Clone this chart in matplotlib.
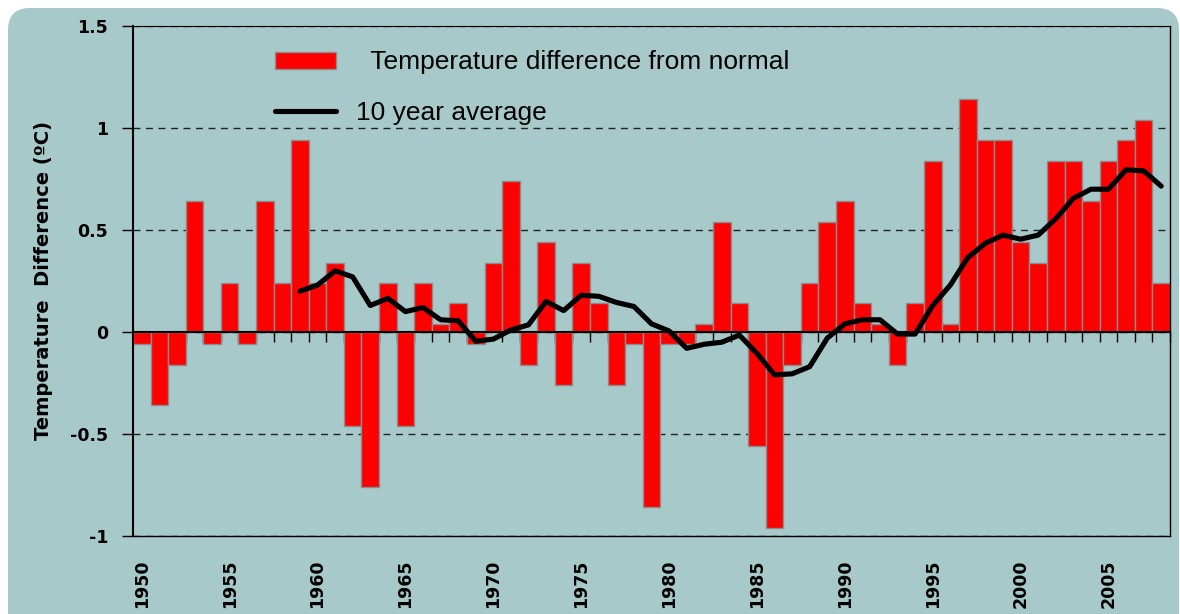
"""
Temperature difference from normal, 1950-2008, with the 10 year average.
Saves out.png (1180x614).
"""

import matplotlib
matplotlib.use("Agg")
import matplotlib.pyplot as plt
from matplotlib.patches import FancyBboxPatch
import numpy as np

# ── Data ──────────────────────────────────────────────────────────────────────
years = list(range(1950, 2009))
temp_diff = [
    -0.06, -0.36, -0.16, 0.64, -0.06, 0.24, -0.06, 0.64, 0.24, 0.94,   # 1950s
    0.24, 0.34, -0.46, -0.76, 0.24, -0.46, 0.24, 0.04, 0.14, -0.06,    # 1960s
    0.34, 0.74, -0.16, 0.44, -0.26, 0.34, 0.14, -0.26, -0.06, -0.86,   # 1970s
    -0.06, -0.06, 0.04, 0.54, 0.14, -0.56, -0.96, -0.16, 0.24, 0.54,   # 1980s
    0.64, 0.14, 0.04, -0.16, 0.14, 0.84, 0.04, 1.14, 0.94, 0.94,       # 1990s
    0.44, 0.34, 0.84, 0.84, 0.64, 0.84, 0.94, 1.04, 0.24,              # 2000s
]

avg_years = list(range(1959, 2009))
avg_10yr = [
    0.20,
    0.23, 0.30, 0.27, 0.13, 0.165, 0.10, 0.12, 0.06, 0.055, -0.045,
    -0.035, 0.01, 0.035, 0.15, 0.105, 0.18, 0.175, 0.145, 0.125, 0.04,
    0.005, -0.08, -0.06, -0.05, -0.015, -0.105, -0.21, -0.205, -0.17, -0.03,
    0.04, 0.06, 0.06, -0.01, -0.01, 0.13, 0.23, 0.365, 0.435, 0.475,
    0.455, 0.475, 0.555, 0.655, 0.70, 0.70, 0.795, 0.79, 0.715,
]

label_years = list(range(1950, 2009, 5))
y_ticks = [-1, -0.5, 0, 0.5, 1, 1.5]
y_tick_labels = ["-1", "-0.5", "0", "0.5", "1", "1.5"]

# ── Style ─────────────────────────────────────────────────────────────────────
BG = "#a7c9c9"
RED = "#ff0000"
EDGE = "#8c8c8c"
BLACK = "#000000"

plt.rcParams.update({
    "font.family": "DejaVu Sans",
    "figure.dpi": 100,
})


def main() -> None:
    fig = plt.figure(figsize=(11.8, 6.14), facecolor="white")

    # rounded teal panel behind everything
    panel = FancyBboxPatch(
        (0.08, -0.5), 11.71, 6.56,
        boxstyle="round,pad=0,rounding_size=0.22",
        transform=fig.dpi_scale_trans,
        facecolor=BG, edgecolor="none", zorder=-10,
    )
    fig.patches.append(panel)

    ax = fig.add_axes([133 / 1180, 1 - 536 / 614, 1037 / 1180, 510 / 614])
    ax.set_facecolor("none")

    bars = ax.bar(years, temp_diff, width=1.0, color=RED, edgecolor=EDGE,
                  linewidth=1.0, zorder=2, label="  Temperature difference from normal")
    line, = ax.plot(avg_years, avg_10yr, color=BLACK, linewidth=3.7,
                    solid_joinstyle="round", solid_capstyle="round", zorder=3,
                    label="10 year average")

    ax.set_xlim(years[0] - 0.5, years[-1] + 0.5)
    ax.set_ylim(-1, 1.5)

    # y axis
    ax.set_yticks(y_ticks)
    ax.set_yticklabels(y_tick_labels, fontsize=12.5, fontweight="bold")
    ax.tick_params(axis="y", direction="out", length=8, width=1, pad=10)
    ax.yaxis.grid(True, linestyle=(0, (5, 4)), color="#222222", linewidth=1)
    ax.set_axisbelow(True)
    ax.set_ylabel("Temperature  Difference (ºC)", fontsize=14, fontweight="bold")
    ax.yaxis.set_label_coords(-0.077, 0.5)

    # x axis sits on zero, ticks between the bars
    ax.spines["bottom"].set_position(("data", 0))
    ax.spines["bottom"].set_linewidth(1.5)
    ax.spines["bottom"].set_zorder(4)
    ax.spines["left"].set_linewidth(1.5)
    ax.spines["right"].set_linewidth(1.0)
    ax.spines["top"].set_linewidth(0.8)
    ax.set_xticks(np.arange(years[0] - 0.5, years[-1] + 1.0, 1.0))
    ax.tick_params(axis="x", direction="out", length=7, width=1,
                   labelbottom=False)

    # year labels along the frame bottom
    sec = ax.secondary_xaxis("bottom")
    sec.set_xticks(label_years)
    sec.set_xticklabels([str(y) for y in label_years], rotation=90,
                        fontsize=12.5, fontweight="bold")
    sec.tick_params(length=0, pad=17)
    sec.spines["bottom"].set_linewidth(1.0)

    ax.legend(
        handles=[bars, line],
        loc="upper left",
        bbox_to_anchor=(0.137, 0.952),
        frameon=False,
        borderpad=0,
        borderaxespad=0,
        handlelength=2.3,
        handleheight=0.62,
        handletextpad=0.76,
        labelspacing=1.0,
        prop={"family": "Liberation Sans", "size": 19},
    )

    fig.savefig("out.png", dpi=100, facecolor="white")
    plt.close(fig)


if __name__ == "__main__":
    main()
